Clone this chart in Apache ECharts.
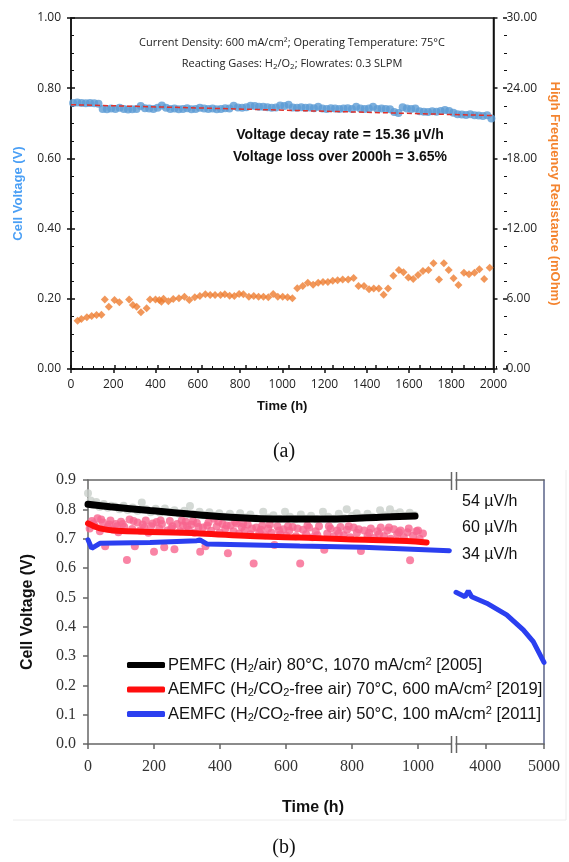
<!DOCTYPE html>
<html><head><meta charset="utf-8">
<script src="https://cdn.jsdelivr.net/npm/echarts@6/dist/echarts.min.js"></script>
<style>html,body{margin:0;padding:0;background:#fff}#c{width:569px;height:862px}</style>
</head><body><div id="c"></div>
<script>
// ---------- Panel (a) data ----------
const cellVoltage = [
[10,0.758],[30,0.759],[50,0.758],[70,0.757],[90,0.758],[110,0.757],[130,0.756],
[150,0.741],[170,0.740],[190,0.742],[210,0.741],[230,0.744],[250,0.741],
[270,0.739],[290,0.740],[310,0.741],[330,0.749],[350,0.743],[370,0.742],[390,0.741],[410,0.744],
[430,0.751],[450,0.744],[470,0.741],[490,0.742],[510,0.740],[530,0.741],[550,0.743],[570,0.740],[590,0.741],
[610,0.744],[630,0.742],[650,0.741],[670,0.742],[690,0.740],[710,0.741],[730,0.743],[750,0.742],
[770,0.750],[790,0.745],[810,0.744],[830,0.746],[850,0.750],[870,0.749],[890,0.747],
[910,0.747],[930,0.746],[950,0.744],[970,0.745],[990,0.751],
[1010,0.749],[1030,0.753],[1050,0.745],[1070,0.744],[1090,0.746],[1110,0.744],[1130,0.745],[1150,0.743],[1170,0.747],
[1190,0.742],[1210,0.741],[1230,0.743],[1250,0.742],[1270,0.741],[1290,0.742],[1310,0.743],[1330,0.741],
[1350,0.747],[1370,0.742],[1390,0.741],[1410,0.742],[1430,0.747],[1450,0.741],[1470,0.742],[1490,0.741],[1510,0.740],
[1530,0.732],[1550,0.729],[1570,0.746],[1590,0.742],[1610,0.741],[1630,0.742],
[1650,0.734],[1670,0.733],[1690,0.732],[1710,0.734],[1730,0.733],[1750,0.735],[1770,0.738],[1790,0.735],
[1810,0.730],[1830,0.726],[1850,0.725],[1870,0.724],[1890,0.726],[1910,0.723],[1930,0.722],[1950,0.721],[1970,0.723],[1990,0.714]
];
const voltageTrend = [[0,0.753],[2000,0.722]];
const hfr = [
[31,4.13],[49,4.27],[75,4.42],[98,4.53],[121,4.62],[144,4.64],[160,5.95],[179,5.33],[206,5.9],[229,5.7],
[275,5.95],[293,5.47],[311,5.33],[331,4.84],[358,5.19],[374,5.95],[400,5.95],[418,5.9],[428,5.75],[438,6.0],
[461,5.78],[484,5.98],[511,6.04],[537,6.18],[560,5.9],[586,6.13],[610,6.24],[636,6.38],[659,6.32],[682,6.32],
[708,6.32],[728,6.38],[751,6.27],[773,6.24],[796,6.41],[816,6.38],[842,6.18],[865,6.24],[888,6.18],[911,6.18],
[934,6.13],[957,6.41],[979,6.18],[1002,6.18],[1025,6.13],[1048,6.04],
[1071,6.9],[1097,7.09],[1121,7.38],[1146,7.21],[1170,7.38],[1193,7.44],[1216,7.44],[1239,7.55],[1262,7.58],
[1286,7.66],[1312,7.66],[1338,7.78],[1361,7.09],[1387,7.09],[1411,6.81],[1433,6.87],[1457,6.87],[1480,6.35],
[1501,6.87],[1526,7.98],[1552,8.46],[1574,8.26],[1597,7.83],[1620,7.69],[1643,8.03],[1666,8.37],[1692,8.46],
[1716,9.03],[1742,7.66],[1765,9.03],[1788,8.46],[1811,7.75],[1834,7.18],[1860,8.23],[1884,8.09],[1910,8.23],
[1933,8.52],[1956,7.69],[1982,8.66]
];

// ---------- Panel (b) data ----------
const pemPoints = [
[0,0.855],[8,0.83],[15,0.815],[25,0.825],[35,0.808],[48,0.818],[60,0.805],[70,0.812],[82,0.81],[95,0.8],
[108,0.812],[120,0.798],[135,0.806],[150,0.795],[163,0.823],[176,0.8],[190,0.79],[205,0.802],[218,0.788],[233,0.803],
[248,0.79],[262,0.797],[277,0.785],[292,0.795],[309,0.811],[322,0.783],[338,0.792],[352,0.78],[368,0.79],[383,0.778],
[398,0.787],[413,0.775],[430,0.785],[446,0.773],[461,0.787],[477,0.772],[492,0.782],[508,0.77],[531,0.792],[546,0.772],
[562,0.78],[580,0.768],[597,0.792],[612,0.775],[628,0.766],[645,0.782],[660,0.768],[676,0.778],[692,0.766],[712,0.792],
[728,0.775],[745,0.768],[760,0.785],[776,0.77],[784,0.8],[800,0.778],[814,0.787],[830,0.772],[847,0.785],[862,0.775],
[885,0.797],[900,0.78],[915,0.8],[930,0.785],[945,0.79],[960,0.778],[975,0.788],[990,0.78]
];
const pemLine = [[0,0.817],[67,0.809],[188,0.796],[339,0.781],[491,0.770],[642,0.767],[733,0.767],[885,0.773],[991,0.777]];
const aem19Points = [
[5,0.735],[12,0.76],[20,0.745],[29,0.77],[36,0.725],[45,0.755],[52,0.674],[60,0.74],[68,0.762],[76,0.73],
[84,0.75],[92,0.722],[100,0.758],[110,0.74],[118,0.627],[126,0.765],[134,0.733],[142,0.674],[150,0.755],[158,0.728],
[166,0.748],[175,0.762],[183,0.72],[191,0.742],[200,0.655],[208,0.757],[216,0.735],[224,0.75],[231,0.671],[240,0.728],
[248,0.76],[256,0.742],[262,0.664],[270,0.75],[279,0.725],[288,0.745],[296,0.758],[305,0.73],[313,0.748],[322,0.72],
[330,0.753],[340,0.655],[348,0.738],[356,0.674],[365,0.755],[373,0.727],[382,0.768],[390,0.742],[399,0.72],[408,0.75],
[416,0.733],[424,0.65],[432,0.745],[441,0.725],[450,0.752],[458,0.718],[466,0.74],[475,0.728],[484,0.748],[492,0.715],
[502,0.615],[510,0.738],[519,0.722],[528,0.745],[537,0.712],[546,0.735],[556,0.72],[565,0.678],[574,0.742],[583,0.715],
[592,0.732],[601,0.71],[610,0.728],[620,0.74],[630,0.708],[643,0.615],[652,0.73],[661,0.715],[670,0.738],[680,0.705],
[690,0.725],[700,0.742],[716,0.662],[725,0.718],[735,0.735],[745,0.708],[755,0.728],[765,0.74],[775,0.712],[785,0.73],
[795,0.705],[805,0.738],[815,0.72],[827,0.658],[837,0.728],[847,0.71],[857,0.735],[867,0.702],[877,0.725],[887,0.738],
[897,0.708],[907,0.728],[917,0.7],[927,0.732],[937,0.715],[947,0.728],[957,0.705],[968,0.722],[976,0.626],[985,0.71],
[995,0.725],[1005,0.7],[1015,0.718],
[16,0.752],[40,0.765],[64,0.748],[88,0.742],[105,0.75],[138,0.76],[170,0.738],[196,0.752],[220,0.762],[252,0.735],
[284,0.762],[300,0.742],[318,0.76],[335,0.74],[361,0.745],[395,0.758],[420,0.745],[446,0.758],[470,0.752],[497,0.735],
[524,0.73],[551,0.748],[579,0.728],[606,0.742],[635,0.735],[665,0.745],[695,0.712],[730,0.742],[760,0.718],[790,0.742],
[820,0.732],[852,0.72],[882,0.715],[912,0.738],[942,0.722],[972,0.735],[1000,0.728]
];
const aem19Line = [[0,0.752],[36,0.735],[87,0.727],[339,0.718],[491,0.709],[642,0.704],[784,0.698],[966,0.692],[1026,0.687]];
const aem11LineEarly = [[0,0.696],[11,0.667],[36,0.684],[188,0.687],[330,0.693],[339,0.696],[360,0.682],[642,0.675],[833,0.671],[1095,0.659]];
const aem11LineLate = [[3500,0.517],[3653,0.502],[3710,0.522],[3767,0.502],[4023,0.480],[4364,0.440],[4647,0.389],[4817,0.349],[5000,0.278]];
const xTicksEarly = [0,200,400,600,800,1000];
const xTicksLate = [4000,5000];
const seriesKeys = ['pem','aem19','aem11'];
const legendLabels = [
  '{t|PEMFC (H}{sub|2}{t|/air) 80°C, 1070 mA/cm}{sup|2}{t| [2005]}',
  '{t|AEMFC (H}{sub|2}{t|/CO}{sub|2}{t|-free air) 70°C, 600 mA/cm}{sup|2}{t| [2019]}',
  '{t|AEMFC (H}{sub|2}{t|/CO}{sub|2}{t|-free air) 50°C, 100 mA/cm}{sup|2}{t| [2011]}'
];
const rateLabels = ['54 µV/h','60 µV/h','34 µV/h'];

// ---------- styles ----------
const SANS = 'Liberation Sans, Arial, sans-serif';
const LBL = 'Open Sans, sans-serif';
const SERIF = 'Liberation Serif, serif';
const blk = '#111';
const gB = '#666';
const plain = v => String(v);

const chart = echarts.init(document.getElementById('c'), null, {renderer:'canvas'});

const topRect = {left:71, top:18, width:436, height:351};
const botTop = 480, botH = 264;

const option = {
  animation:false,
  backgroundColor:'#fff',
  grid:[
    Object.assign({show:true, borderColor:blk, borderWidth:1.5, containLabel:false}, topRect),
    Object.assign({show:false}, topRect),
    {left:88, top:botTop, width:363, height:botH},
    {left:456, top:botTop, width:88, height:botH}
  ],
  xAxis:[
    {gridIndex:0, type:'value', min:0, max:2000, interval:200,
     axisLine:{lineStyle:{color:blk, width:1.5}}, axisTick:{length:4, lineStyle:{color:blk,width:1.5}},
     axisLabel:{margin:10, fontFamily:LBL, fontSize:12, color:'#222', formatter:plain}, splitLine:{show:false},
     name:'Time (h)', nameLocation:'middle', nameGap:31,
     nameTextStyle:{fontFamily:SANS, fontWeight:'bold', fontSize:13, color:'#111'}},
    {gridIndex:1, type:'value', min:0, max:2000, interval:200,
     axisLine:{show:false}, axisTick:{inside:true, length:4, lineStyle:{color:blk,width:1.5}},
     minorTick:{show:true, splitNumber:4, length:3, lineStyle:{color:blk,width:1}},
     axisLabel:{show:false}, splitLine:{show:false}},
    {gridIndex:2, type:'value', min:0, max:1100,
     axisLine:{lineStyle:{color:gB, width:1.5}},
     axisTick:{customValues:xTicksEarly, length:5, lineStyle:{color:gB,width:1.5}},
     axisLabel:{customValues:xTicksEarly, margin:15, fontFamily:SERIF, fontSize:16, color:'#333', formatter:plain},
     splitLine:{show:false}},
    {gridIndex:2, type:'value', min:0, max:1100, position:'top',
     axisLine:{lineStyle:{color:gB, width:1.5}}, axisTick:{show:false}, axisLabel:{show:false}, splitLine:{show:false}},
    {gridIndex:3, type:'value', min:3500, max:5000,
     axisLine:{lineStyle:{color:gB, width:1.5}},
     axisTick:{customValues:xTicksLate, length:5, lineStyle:{color:gB,width:1.5}},
     axisLabel:{customValues:xTicksLate, margin:15, fontFamily:SERIF, fontSize:16, color:'#333', formatter:plain},
     splitLine:{show:false}},
    {gridIndex:3, type:'value', min:3500, max:5000, position:'top',
     axisLine:{lineStyle:{color:gB, width:1.5}}, axisTick:{show:false}, axisLabel:{show:false}, splitLine:{show:false}}
  ],
  yAxis:[
    {gridIndex:0, type:'value', min:0, max:1, interval:0.2, position:'left',
     axisLine:{show:true, lineStyle:{color:blk, width:1.5}}, axisTick:{show:true, length:4, lineStyle:{color:blk,width:1.5}},
     axisLabel:{margin:10, fontFamily:LBL, fontSize:12, color:'#222', formatter:v=>v.toFixed(2)}, splitLine:{show:false},
     name:'Cell Voltage (V)', nameLocation:'middle', nameGap:46,
     nameTextStyle:{fontFamily:SANS, fontWeight:'bold', fontSize:13, color:'#4a9ff5'}},
    {gridIndex:0, type:'value', min:0, max:30, interval:6, position:'right',
     axisLine:{show:true, lineStyle:{color:blk, width:1.5}}, axisTick:{show:true, length:4, lineStyle:{color:blk,width:1.5}},
     axisLabel:{margin:13, fontFamily:LBL, fontSize:12, color:'#222', formatter:v=>v.toFixed(2)}, splitLine:{show:false},
     name:'High Frequency Resistance (mOhm)', nameLocation:'middle', nameGap:50, nameRotate:-90,
     nameTextStyle:{fontFamily:SANS, fontWeight:'bold', fontSize:13, color:'#f4842f'}},
    {gridIndex:1, type:'value', min:0, max:1, interval:0.2, position:'left',
     axisLine:{show:false}, axisTick:{show:true, inside:true, length:4, lineStyle:{color:blk,width:1.5}},
     minorTick:{show:true, splitNumber:4, length:3, lineStyle:{color:blk,width:1}},
     axisLabel:{show:false}, splitLine:{show:false}},
    {gridIndex:1, type:'value', min:0, max:30, interval:6, position:'right',
     axisLine:{show:false}, axisTick:{show:true, inside:true, length:4, lineStyle:{color:blk,width:1.5}},
     minorTick:{show:true, splitNumber:4, length:3, lineStyle:{color:blk,width:1}},
     axisLabel:{show:false}, splitLine:{show:false}},
    {gridIndex:2, type:'value', min:0, max:0.9, interval:0.1, position:'left',
     axisLine:{show:true, lineStyle:{color:gB, width:1.5}}, axisTick:{show:true, length:5, lineStyle:{color:gB,width:1.5}},
     axisLabel:{margin:12, fontFamily:SERIF, fontSize:16, color:'#333', formatter:v=>v.toFixed(1)}, splitLine:{show:false},
     name:'Cell Voltage (V)', nameLocation:'middle', nameGap:52,
     nameTextStyle:{fontFamily:SANS, fontWeight:'bold', fontSize:16, color:'#111'}},
    {gridIndex:3, type:'value', min:0, max:0.9, interval:0.1, position:'right',
     axisLine:{show:true, lineStyle:{color:'#5a6388', width:1.5}}, axisTick:{show:false}, axisLabel:{show:false}, splitLine:{show:false}}
  ],
  legend:{
    orient:'vertical', left:122, top:651, itemWidth:38, itemHeight:6, itemGap:6.5, icon:'roundRect',
    selectedMode:false, data:seriesKeys,
    formatter:name=>legendLabels[seriesKeys.indexOf(name)],
    textStyle:{fontFamily:SANS, fontSize:16, color:'#111', padding:[0,0,0,-2],
      rich:{
        t:{fontFamily:SANS, fontSize:16.5, lineHeight:18, color:'#111'},
        sub:{fontFamily:SANS, fontSize:11, lineHeight:6, verticalAlign:'bottom', color:'#111'},
        sup:{fontFamily:SANS, fontSize:11, lineHeight:6, verticalAlign:'top', color:'#111'}
      }}
  },
  series:[
    {type:'scatter', xAxisIndex:0, yAxisIndex:0, data:cellVoltage, symbolSize:8, itemStyle:{color:'#5b9bd5'}, z:2},
    {type:'line', xAxisIndex:0, yAxisIndex:0, data:voltageTrend, showSymbol:false, symbol:'none',
     lineStyle:{color:'#e0312b', width:1.5, type:[5,3]}, z:3},
    {type:'scatter', xAxisIndex:0, yAxisIndex:1, data:hfr, symbol:'diamond', symbolSize:8, itemStyle:{color:'#ed7d31'}, z:2},

    {type:'scatter', xAxisIndex:2, yAxisIndex:4, data:pemPoints, symbolSize:8, itemStyle:{color:'#c9cfcb'}, z:2},
    {type:'scatter', xAxisIndex:2, yAxisIndex:4, data:aem19Points, symbolSize:8, itemStyle:{color:'#f7658f'}, z:2},
    {name:'pem', type:'line', xAxisIndex:2, yAxisIndex:4, data:pemLine, smooth:0.4, symbol:'none', color:'#000',
     lineStyle:{color:'#000', width:7, cap:'round'}, z:4},
    {name:'aem19', type:'line', xAxisIndex:2, yAxisIndex:4, data:aem19Line, smooth:0.4, symbol:'none', color:'#ff0d0d',
     lineStyle:{color:'#ff0d0d', width:6, cap:'round'}, z:4},
    {name:'aem11', type:'line', xAxisIndex:2, yAxisIndex:4, data:aem11LineEarly, symbol:'none', color:'#2b3ff0',
     lineStyle:{color:'#2b3ff0', width:5, cap:'round'}, z:5},
    {name:'aem11', type:'line', xAxisIndex:4, yAxisIndex:5, data:aem11LineLate, symbol:'none', color:'#2b3ff0',
     lineStyle:{color:'#2b3ff0', width:5, cap:'round'}, z:5}
  ],
  graphic:[
    {type:'text', z:10, style:{text:'Current Density: 600 mA/cm²; Operating Temperature: 75°C', x:292, y:43,
      align:'center', verticalAlign:'middle', font:'11px Open Sans, sans-serif', fill:'#222'}},
    {type:'text', z:10, style:{text:'{a|Reacting Gases: H}{s|2}{a|/O}{s|2}{a|; Flowrates: 0.3 SLPM}', x:292, y:64,
      align:'center', verticalAlign:'middle', fill:'#222',
      rich:{a:{fontFamily:LBL, fontSize:11, lineHeight:14, fill:'#222', color:'#222'},
            s:{fontFamily:LBL, fontSize:8, lineHeight:4, verticalAlign:'bottom', fill:'#222', color:'#222'}}}},
    {type:'text', z:10, style:{text:'Voltage decay rate = 15.36 µV/h', x:340, y:135,
      align:'center', verticalAlign:'middle', font:'bold 14px Liberation Sans, Arial, sans-serif', fill:'#111'}},
    {type:'text', z:10, style:{text:'Voltage loss over 2000h = 3.65%', x:340, y:157,
      align:'center', verticalAlign:'middle', font:'bold 14px Liberation Sans, Arial, sans-serif', fill:'#111'}},
    {type:'text', z:10, style:{text:'(a)', x:284, y:452, align:'center', verticalAlign:'middle',
      font:'20px Liberation Serif, serif', fill:'#111'}},
    {type:'text', z:10, style:{text:'(b)', x:284, y:848, align:'center', verticalAlign:'middle',
      font:'20px Liberation Serif, serif', fill:'#111'}},
    {type:'text', z:10, style:{text:rateLabels[0], x:462, y:502, align:'left', verticalAlign:'middle',
      font:'16px Liberation Sans, Arial, sans-serif', fill:'#111'}},
    {type:'text', z:10, style:{text:rateLabels[1], x:462, y:528, align:'left', verticalAlign:'middle',
      font:'16px Liberation Sans, Arial, sans-serif', fill:'#111'}},
    {type:'text', z:10, style:{text:rateLabels[2], x:462, y:555, align:'left', verticalAlign:'middle',
      font:'16px Liberation Sans, Arial, sans-serif', fill:'#111'}},
    {type:'text', z:10, style:{text:'Time (h)', x:313, y:808, align:'center', verticalAlign:'middle',
      font:'bold 16px Liberation Sans, Arial, sans-serif', fill:'#111'}},
    // axis-break marks
    {type:'line', z:10, shape:{x1:451.5,y1:472,x2:451.5,y2:490}, style:{stroke:gB, lineWidth:1.5}},
    {type:'line', z:10, shape:{x1:456.5,y1:472,x2:456.5,y2:490}, style:{stroke:gB, lineWidth:1.5}},
    {type:'line', z:10, shape:{x1:451.5,y1:736,x2:451.5,y2:753}, style:{stroke:gB, lineWidth:1.5}},
    {type:'line', z:10, shape:{x1:456.5,y1:736,x2:456.5,y2:753}, style:{stroke:gB, lineWidth:1.5}},
    // faint panel frame
    {type:'line', z:1, shape:{x1:566,y1:470,x2:566,y2:820}, style:{stroke:'#ececec', lineWidth:1}},
    {type:'line', z:1, shape:{x1:13,y1:820,x2:566,y2:820}, style:{stroke:'#ececec', lineWidth:1}}
  ]
};
chart.setOption(option);
</script></body></html>
